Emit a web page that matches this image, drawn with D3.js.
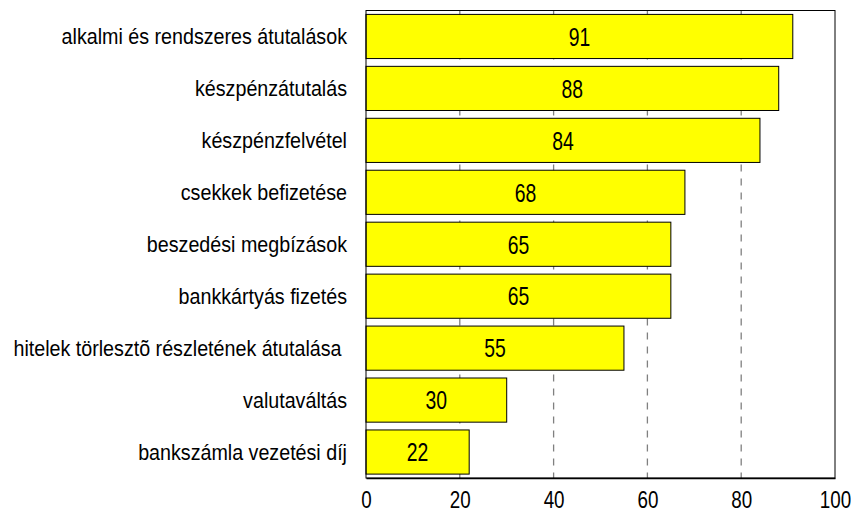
<!DOCTYPE html>
<html>
<head>
<meta charset="utf-8">
<script src="https://cdn.jsdelivr.net/npm/d3@7"></script>
<style>
  body { margin: 0; background: #fff; }
  svg { display: block; font-family: "Liberation Sans", Arial, sans-serif; }
</style>
</head>
<body>
<svg id="chart" width="851" height="513"></svg>
<script>
// categories, top to bottom
const categories = [
  "alkalmi és rendszeres átutalások",
  "készpénzátutalás",
  "készpénzfelvétel",
  "csekkek befizetése",
  "beszedési megbízások",
  "bankkártyás fizetés",
  "hitelek törlesztõ részletének átutalása ",
  "valutaváltás",
  "bankszámla vezetési díj"
];
const values = [91, 88, 84, 68, 65, 65, 55, 30, 22];
const xTicks = [0, 20, 40, 60, 80, 100];
const gridTicks = [20, 40, 60, 80];

const svg = d3.select("#chart");

// plot area
const plotLeft = 366, plotRight = 835, plotTop = 10.5, plotBottom = 478;

const x = d3.scaleLinear().domain([0, 100]).range([plotLeft, plotRight]);
const y = d3.scaleBand().domain(categories).range([plotTop, plotBottom])
  .paddingInner(0.15).paddingOuter(0.075);

//gridlines behind the bars
svg.selectAll(".grid")
  .data(gridTicks)
  .enter()
  .append("line")
  .attr("x1", d => x(d)).attr("x2", d => x(d))
  .attr("y1", plotTop).attr("y2", plotBottom)
  .attr("stroke", "#808080")
  .attr("stroke-width", 1.3)
  .attr("stroke-dasharray", "7,7");

//bars
svg.selectAll(".bar")
  .data(values)
  .enter()
  .append("rect")
  .attr("x", x(0))
  .attr("y", (d, i) => y(categories[i]))
  .attr("width", d => x(d) - x(0))
  .attr("height", y.bandwidth())
  .attr("fill", "#ffff00")
  .attr("stroke", "#000")
  .attr("stroke-width", 1);

//value labels, condensed like the original
const valSx = 0.76;
svg.selectAll(".val")
  .data(values)
  .enter()
  .append("text")
  .attr("transform", (d, i) =>
    `translate(${(x(0) + x(d)) / 2},${y(categories[i]) + y.bandwidth() / 2 + 9.3}) scale(${valSx},1)`)
  .attr("text-anchor", "middle")
  .style("font-size", "25.5px")
  .attr("fill", "#000")
  .text(d => d);

//category labels
const catSx = 0.875;
svg.selectAll(".cat")
  .data(categories)
  .enter()
  .append("text")
  .attr("transform", d => `translate(${plotLeft - 19},${y(d) + y.bandwidth() / 2 + 7.8}) scale(${catSx},1)`)
  .attr("text-anchor", "end")
  .style("font-size", "22.5px")
  .style("white-space", "pre")
  .attr("xml:space", "preserve")
  .attr("fill", "#000")
  .text(d => d);

//frame
svg.append("rect")
  .attr("x", plotLeft).attr("y", plotTop)
  .attr("width", plotRight - plotLeft).attr("height", plotBottom - plotTop)
  .attr("fill", "none")
  .attr("stroke", "#000")
  .attr("stroke-width", 1);

//bottom axis
const xAxis = d3.axisBottom(x)
  .tickValues(xTicks)
  .tickSize(0)
  .tickSizeOuter(0)
  .tickPadding(13.5);

const gx = svg.append("g")
  .attr("transform", `translate(0,${plotBottom})`)
  .call(xAxis);

gx.select(".domain").attr("stroke", "#000").attr("stroke-width", 1.3);
gx.selectAll("text")
  .attr("font-family", "Liberation Sans, Arial, sans-serif")
  .style("font-size", "23.5px")
  .attr("fill", "#000")
  .attr("transform", "scale(0.8,1)");
</script>
</body>
</html>
